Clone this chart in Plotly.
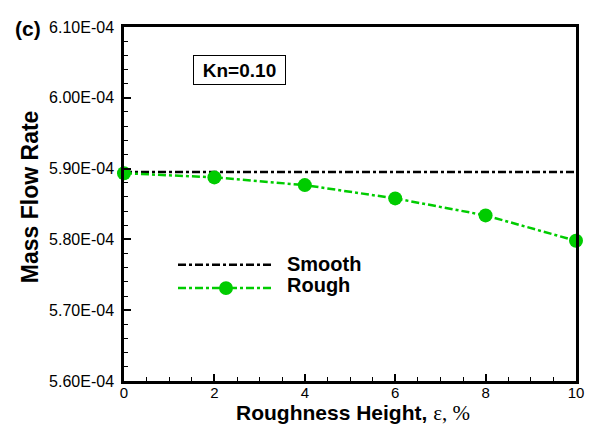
import plotly.graph_objects as go

roughness = [0, 2, 4, 6, 8, 10]
smooth_x = [0, 10]
smooth_y = [5.8952e-4, 5.8952e-4]
rough_y = [5.8935e-4, 5.8876e-4, 5.8767e-4, 5.8579e-4, 5.8339e-4, 5.7980e-4]

y_tickvals = [5.6e-4, 5.7e-4, 5.8e-4, 5.9e-4, 6.0e-4, 6.1e-4]
y_ticktext = ["5.60E-04", "5.70E-04", "5.80E-04", "5.90E-04", "6.00E-04", "6.10E-04"]
x_tickvals = [0, 2, 4, 6, 8, 10]

GREEN = "#00CC00"
FONT = "Liberation Sans, Arial, sans-serif"
DASH = "8px,3px,3px,3px"

# Page has an 8px body margin; plot area target (page px): x 124..576, y 19..381
PL, PR, PT, PB = 124, 576, 19, 381
def fx(p):
    return (p - PL) / (PR - PL)
def fy(p):
    return (PB - p) / (PB - PT)

fig = go.Figure()
fig.add_trace(go.Scatter(x=smooth_x, y=smooth_y, mode="lines", name="Smooth",
                         line=dict(color="black", width=2.5, dash=DASH),
                         showlegend=False))
fig.add_trace(go.Scatter(x=roughness, y=rough_y, mode="lines+markers", name="Rough",
                         line=dict(color=GREEN, width=2.5, dash=DASH),
                         marker=dict(color=GREEN, size=14, symbol="circle"),
                         showlegend=False, cliponaxis=False))

fig.update_layout(
    width=592, height=423,
    margin=dict(l=116, r=24, t=11, b=50),
    paper_bgcolor="white", plot_bgcolor="white",
    font=dict(family=FONT, color="black", size=15),
    xaxis=dict(range=[0, 10], tickvals=x_tickvals, ticks="inside", ticklen=7, tickwidth=1.5,
               tickcolor="black", minor=dict(dtick=0.5, ticks="inside", ticklen=4, tickwidth=1, tickcolor="black"),
               showline=True, linecolor="black", linewidth=2.5, mirror=True, showgrid=False, zeroline=False,
               tickfont=dict(size=15), ticklabelstandoff=-4),
    yaxis=dict(range=[5.6e-4, 6.1e-4], tickvals=y_tickvals, ticktext=y_ticktext, ticks="inside",
               ticklen=7, tickwidth=1.5, tickcolor="black",
               minor=dict(dtick=0.02e-4, tick0=5.6e-4, ticks="inside", ticklen=4, tickwidth=1, tickcolor="black"),
               showline=True, linecolor="black", linewidth=2.5, mirror=True, showgrid=False, zeroline=False,
               tickfont=dict(size=16), ticklabelstandoff=4),
)

# Legend drawn manually (long line samples as in the reference)
leg_x0, leg_x1 = 178, 272
fig.add_shape(type="line", xref="paper", yref="paper",
              x0=fx(leg_x0), x1=fx(leg_x1), y0=fy(262), y1=fy(262),
              line=dict(color="black", width=2.5, dash=DASH))
fig.add_shape(type="line", xref="paper", yref="paper",
              x0=fx(leg_x0), x1=fx(leg_x1), y0=fy(286), y1=fy(286),
              line=dict(color=GREEN, width=2.5, dash=DASH))
fig.add_shape(type="circle", xref="paper", yref="paper",
              x0=fx(226 - 7), x1=fx(226 + 7), y0=fy(286 + 7), y1=fy(286 - 7),
              fillcolor=GREEN, line=dict(color=GREEN, width=0))
fig.add_annotation(xref="paper", yref="paper", x=fx(285), y=fy(261),
                   text="<b>Smooth</b>", showarrow=False, xanchor="left", yanchor="middle",
                   font=dict(size=20, family=FONT))
fig.add_annotation(xref="paper", yref="paper", x=fx(285), y=fy(283),
                   text="<b>Rough</b>", showarrow=False, xanchor="left", yanchor="middle",
                   font=dict(size=20, family=FONT))

# Kn box
fig.add_annotation(xref="paper", yref="paper", x=fx(239.5), y=fy(63),
                   text="<b>Kn=0.10</b>", showarrow=False, xanchor="center", yanchor="middle",
                   font=dict(size=19, family=FONT), bordercolor="black", borderwidth=1,
                   borderpad=0, width=91, height=28, bgcolor="white")

# Panel label
fig.add_annotation(xref="paper", yref="paper", x=fx(13), y=fy(21),
                   text="<b>(c)</b>", showarrow=False, xanchor="left", yanchor="middle",
                   font=dict(size=21, family=FONT))

# Axis titles
fig.add_annotation(xref="paper", yref="paper", x=fx(30), y=fy(193),
                   text="<b>Mass Flow Rate</b>", showarrow=False, textangle=-90,
                   xanchor="center", yanchor="middle", font=dict(size=23, family=FONT))
fig.add_annotation(xref="paper", yref="paper", x=fx(353), y=fy(414),
                   text="<b>Roughness Height,</b> <span style='font-family:Liberation Serif'>ε, %</span>",
                   showarrow=False, xanchor="center", yanchor="middle", font=dict(size=21, family=FONT))

fig.write_html("out.html")
